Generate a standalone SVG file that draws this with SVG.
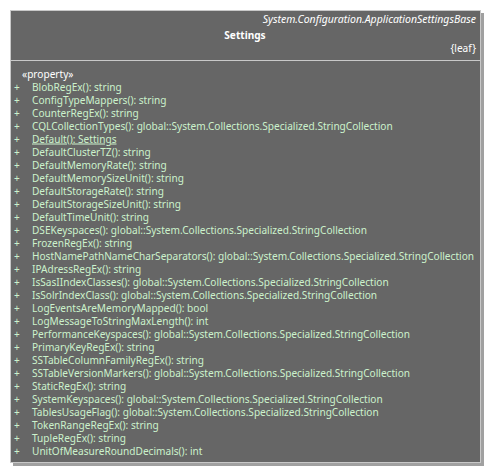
<svg xmlns="http://www.w3.org/2000/svg" width="491" height="473" viewBox="0 0 491 473">
<style>
text{font-family:"Noto Sans","Open Sans","DejaVu Sans",sans-serif;font-size:10.1px}
.h{fill:#ffffff}
.m{fill:#ccf2cc}
</style>
<rect x="0" y="0" width="491" height="473" fill="#ffffff"/>
<g id="Settings">
<rect x="13" y="13" width="471" height="453" fill="#a0a0a0"/>
<rect x="10.5" y="10.5" width="470" height="452" fill="#666666" stroke="#c8c8c8" stroke-width="1"/>
<line x1="10.5" y1="60.5" x2="480.5" y2="60.5" stroke="#c8c8c8" stroke-width="1"/>
<text class="h" x="476" y="22.5" text-anchor="end" style="font-style:italic;font-size:10.5px">System.Configuration.ApplicationSettingsBase</text>
<text class="h" x="245" y="38.5" text-anchor="middle" font-weight="bold">Settings</text>
<text class="h" x="476" y="51.5" text-anchor="end">{leaf}</text>
<text class="h" x="22" y="77.5">«property»</text>
<g class="m">
<text x="14" y="90.5">+</text><text x="32" y="90.5">BlobRegEx(): string</text>
<text x="14" y="103.5">+</text><text x="32" y="103.5">ConfigTypeMappers(): string</text>
<text x="14" y="116.5">+</text><text x="32" y="116.5">CounterRegEx(): string</text>
<text x="14" y="129.5">+</text><text x="32" y="129.5">CQLCollectionTypes(): global::System.Collections.Specialized.StringCollection</text>
<text x="14" y="142.5">+</text><text x="32" y="142.5" text-decoration="underline">Default(): Settings</text>
<text x="14" y="155.5">+</text><text x="32" y="155.5">DefaultClusterTZ(): string</text>
<text x="14" y="168.5">+</text><text x="32" y="168.5">DefaultMemoryRate(): string</text>
<text x="14" y="181.5">+</text><text x="32" y="181.5">DefaultMemorySizeUnit(): string</text>
<text x="14" y="194.5">+</text><text x="32" y="194.5">DefaultStorageRate(): string</text>
<text x="14" y="207.5">+</text><text x="32" y="207.5">DefaultStorageSizeUnit(): string</text>
<text x="14" y="220.5">+</text><text x="32" y="220.5">DefaultTimeUnit(): string</text>
<text x="14" y="233.5">+</text><text x="32" y="233.5">DSEKeyspaces(): global::System.Collections.Specialized.StringCollection</text>
<text x="14" y="246.5">+</text><text x="32" y="246.5">FrozenRegEx(): string</text>
<text x="14" y="259.5">+</text><text x="32" y="259.5">HostNamePathNameCharSeparators(): global::System.Collections.Specialized.StringCollection</text>
<text x="14" y="272.5">+</text><text x="32" y="272.5">IPAdressRegEx(): string</text>
<text x="14" y="285.5">+</text><text x="32" y="285.5">IsSasIIndexClasses(): global::System.Collections.Specialized.StringCollection</text>
<text x="14" y="298.5">+</text><text x="32" y="298.5">IsSolrIndexClass(): global::System.Collections.Specialized.StringCollection</text>
<text x="14" y="311.5">+</text><text x="32" y="311.5">LogEventsAreMemoryMapped(): bool</text>
<text x="14" y="324.5">+</text><text x="32" y="324.5">LogMessageToStringMaxLength(): int</text>
<text x="14" y="337.5">+</text><text x="32" y="337.5">PerformanceKeyspaces(): global::System.Collections.Specialized.StringCollection</text>
<text x="14" y="350.5">+</text><text x="32" y="350.5">PrimaryKeyRegEx(): string</text>
<text x="14" y="363.5">+</text><text x="32" y="363.5">SSTableColumnFamilyRegEx(): string</text>
<text x="14" y="376.5">+</text><text x="32" y="376.5">SSTableVersionMarkers(): global::System.Collections.Specialized.StringCollection</text>
<text x="14" y="389.5">+</text><text x="32" y="389.5">StaticRegEx(): string</text>
<text x="14" y="402.5">+</text><text x="32" y="402.5">SystemKeyspaces(): global::System.Collections.Specialized.StringCollection</text>
<text x="14" y="415.5">+</text><text x="32" y="415.5">TablesUsageFlag(): global::System.Collections.Specialized.StringCollection</text>
<text x="14" y="428.5">+</text><text x="32" y="428.5">TokenRangeRegEx(): string</text>
<text x="14" y="441.5">+</text><text x="32" y="441.5">TupleRegEx(): string</text>
<text x="14" y="454.5">+</text><text x="32" y="454.5">UnitOfMeasureRoundDecimals(): int</text>
</g>
</g>
<g id="connectors"/>
</svg>
